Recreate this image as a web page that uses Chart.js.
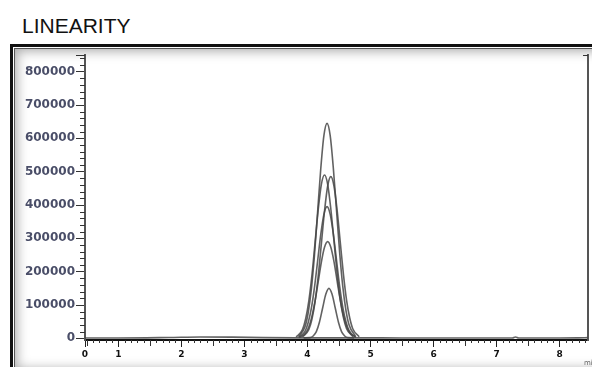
<!DOCTYPE html>
<html>
<head>
<meta charset="utf-8">
<script src="https://cdn.jsdelivr.net/npm/chart.js@4"></script>
<style>
  body { margin:0; width:592px; height:367px; overflow:hidden; background:#fff; position:relative; }
  .title { position:absolute; left:22px; top:15px; font:21px/21px "Liberation Sans", Arial, sans-serif; color:#111; }
  .frame { position:absolute; left:10px; top:44px; width:600px; height:326px; border-left:3px solid #111; border-top:3px solid #111;
           box-shadow: inset 1px 1px 0 #fff, inset 2px 2px 0 #555, inset 0 0 12px 4px #a8a8a8; background:#fff; }
  .plot { position:absolute; left:10px; top:45px; width:582px; height:322px; }
</style>
</head>
<body>
<div class="title">LINEARITY</div>
<div class="frame"></div>
<div class="plot"><canvas id="myChart" width="582" height="322"></canvas></div>
<script>
// axis ticks
var xTickValues = [0.47, 1, 2, 3, 4, 5, 6, 7, 8];
var xTickLabels = ["0", "1", "2", "3", "4", "5", "6", "7", "8"];
var yTickValues = [0, 100000, 200000, 300000, 400000, 500000, 600000, 700000, 800000];

// baseline trace (min, response)
var baseTimes  = [0.47, 1.0, 1.8, 2.3, 2.8, 3.3, 3.85, 4.85, 5.5, 6.5, 7.25, 7.3, 7.35, 8.0, 8.3, 8.45];
var baseValues = [1000, 1000, 2500, 4000, 3500, 2000, 1500, 1500, 1000, 1000, 1000, 4000, 1000, 1000, 1500, 2000];

// the six linearity injections
var timesA = [3.86, 3.96, 4.01, 4.06, 4.11, 4.16, 4.21, 4.26, 4.31, 4.36, 4.41, 4.46, 4.51, 4.56, 4.61, 4.66, 4.76];
var peakA  = [5000, 35000, 76000, 146000, 249000, 378000, 508000, 608000, 645000, 608000, 510000, 385000, 258000, 155000, 84000, 40000, 7000];

var timesB = [3.82, 3.92, 3.97, 4.02, 4.07, 4.12, 4.17, 4.22, 4.27, 4.32, 4.37, 4.42, 4.47, 4.52, 4.57, 4.62, 4.72];
var peakB  = [4000, 26000, 58000, 111000, 189000, 287000, 386000, 462000, 490000, 462000, 388000, 292000, 194000, 115000, 62000, 29000, 5000];

var timesC = [3.92, 4.02, 4.07, 4.12, 4.17, 4.22, 4.27, 4.32, 4.37, 4.42, 4.47, 4.52, 4.57, 4.62, 4.67, 4.72, 4.82];
var peakC  = [4000, 26000, 57000, 110000, 187000, 284000, 382000, 457000, 485000, 457000, 384000, 288000, 192000, 114000, 61000, 28000, 5000];

var timesD = [3.86, 3.96, 4.01, 4.06, 4.11, 4.16, 4.21, 4.26, 4.31, 4.36, 4.41, 4.46, 4.51, 4.56, 4.61, 4.66, 4.76];
var peakD  = [3000, 21000, 47000, 89000, 152000, 231000, 311000, 372000, 395000, 372000, 313000, 235000, 156000, 93000, 50000, 23000, 4000];

var timesE = [3.87, 3.97, 4.02, 4.07, 4.12, 4.17, 4.22, 4.27, 4.32, 4.37, 4.42, 4.47, 4.52, 4.57, 4.62, 4.67, 4.77];
var peakE  = [2000, 16000, 34000, 66000, 112000, 170000, 229000, 273000, 290000, 273000, 230000, 172000, 115000, 68000, 36000, 17000, 3000];

var timesF = [3.94, 4.04, 4.09, 4.14, 4.19, 4.24, 4.29, 4.34, 4.39, 4.44, 4.49, 4.54, 4.59, 4.64, 4.74];
var peakF  = [1500, 2000, 7000, 20000, 49000, 91000, 132000, 150000, 132000, 91000, 49000, 20000, 7000, 2000, 1500];

function pts(t, v) { return t.map(function(x, i){ return {x: x, y: v[i]}; }); }

function trace(t, v) {
  return {
    data: pts(t, v),
    borderColor: "rgba(70,70,70,0.85)",
    borderWidth: 1.6,
    pointRadius: 0,
    cubicInterpolationMode: 'monotone',
    fill: false
  };
}

// small ticks between the labelled ones, plus the "min" unit
var minorTicks = {
  id: 'minorTicks',
  afterDraw: function(chart) {
    var ctx = chart.ctx, xs = chart.scales.x, ys = chart.scales.y, a = chart.chartArea;
    ctx.save();
    ctx.strokeStyle = "#333";
    ctx.lineWidth = 1;
    ctx.beginPath();
    for (var v = 20000; v <= 840000; v += 20000) {
      if (v % 100000 === 0) continue;
      var py = Math.round(ys.getPixelForValue(v)) + 0.5;
      ctx.moveTo(a.left - 5, py); ctx.lineTo(a.left, py);
    }
    ctx.moveTo(a.left - 9, a.top + 0.5); ctx.lineTo(a.left, a.top + 0.5);
    for (var k = 5; k <= 84; k++) {
      var t = k / 10;
      if (k % 10 === 0) continue;
      var px = Math.round(xs.getPixelForValue(t)) + 0.5;
      ctx.moveTo(px, a.bottom); ctx.lineTo(px, a.bottom + (k % 5 === 0 ? 6 : 3));
    }
    ctx.moveTo(a.right - 5, a.top + 0.5); ctx.lineTo(a.right, a.top + 0.5);
    ctx.stroke();
    ctx.fillStyle = "#666";
    ctx.font = "7px 'DejaVu Sans'";
    ctx.fillText("min", a.right - 4, a.bottom + 25);
    ctx.restore();
  }
};

var ctx = document.getElementById("myChart").getContext('2d');
var myChart = new Chart(ctx, {
  type: 'line',
  data: {
    datasets: [
      trace(baseTimes, baseValues),
      trace(timesA, peakA),
      trace(timesB, peakB),
      trace(timesC, peakC),
      trace(timesD, peakD),
      trace(timesE, peakE),
      trace(timesF, peakF)
    ]
  },
  options: {
    responsive: false,
    animation: false,
    layout: { padding: { top: 10, right: 4, left: 0, bottom: 0 } },
    plugins: { legend: { display: false }, tooltip: { enabled: false } },
    scales: {
      x: {
        type: 'linear',
        min: 0.47,
        max: 8.45,
        afterBuildTicks: function(s){ s.ticks = xTickValues.map(function(v){ return {value: v}; }); },
        afterFit: function(s){ s.height = 27; },
        ticks: {
          autoSkip: false, maxRotation: 0, padding: 2,
          color: "#111",
          font: { family: "DejaVu Sans", size: 9, weight: 'bold' },
          callback: function(v, i){ return xTickLabels[i]; }
        },
        grid: { drawOnChartArea: false, drawTicks: true, tickLength: 7, color: "#222" },
        border: { color: "#111", width: 2 }
      },
      y: {
        min: -5000,
        max: 850000,
        afterBuildTicks: function(s){ s.ticks = yTickValues.map(function(v){ return {value: v}; }); },
        afterFit: function(s){ s.width = 75; },
        ticks: {
          padding: 1,
          color: "#4a4e68",
          font: { family: "DejaVu Sans", size: 12, weight: 'bold' },
          callback: function(v){ return String(v); }
        },
        grid: { drawOnChartArea: false, drawTicks: true, tickLength: 9, color: "#333" },
        border: { color: "#555", width: 2 }
      },
      y2: {
        position: 'right',
        min: -5000,
        max: 850000,
        afterFit: function(s){ s.width = 0; },
        ticks: { display: false },
        grid: { display: false },
        border: { color: "#555", width: 2 }
      }
    }
  },
  plugins: [minorTicks]
});
</script>
</body>
</html>
